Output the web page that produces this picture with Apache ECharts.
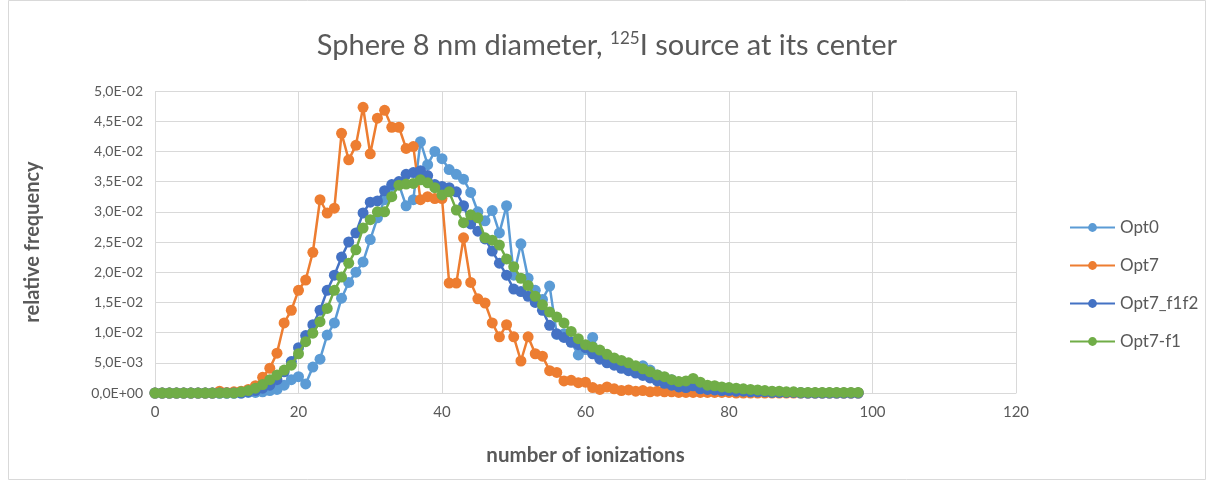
<!DOCTYPE html>
<html><head><meta charset="utf-8">
<script src="https://cdn.jsdelivr.net/npm/echarts@6/dist/echarts.min.js"></script>
<style>html,body{margin:0;padding:0;background:#fff}#c{width:1214px;height:488px}</style>
</head><body><div id="c"></div>
<script>
const ionizations = [0,1,2,3,4,5,6,7,8,9,10,11,12,13,14,15,16,17,18,19,20,21,22,23,24,25,26,27,28,29,30,31,32,33,34,35,36,37,38,39,40,41,42,43,44,45,46,47,48,49,50,51,52,53,54,55,56,57,58,59,60,61,62,63,64,65,66,67,68,69,70,71,72,73,74,75,76,77,78,79,80,81,82,83,84,85,86,87,88,89,90,91,92,93,94,95,96,97,98];
const opt0 = [0,0,0,0,0,0,0,0,0,0,0,0,0,0.0001,0.0001,0.0002,0.0004,0.0006,0.0013,0.0022,0.0027,0.0015,0.0043,0.0056,0.0096,0.0116,0.0157,0.0183,0.0200,0.0217,0.0254,0.0290,0.0320,0.0342,0.0345,0.0310,0.0320,0.0416,0.0378,0.0400,0.0388,0.0370,0.0362,0.0354,0.0332,0.0300,0.0285,0.0302,0.0265,0.0310,0.0195,0.0247,0.0190,0.0170,0.0155,0.0177,0.0097,0.0098,0.0085,0.0063,0.0072,0.0092,0.0065,0.0060,0.0052,0.0048,0.0042,0.0038,0.0045,0.0038,0.0030,0.0025,0.0022,0.0018,0.0016,0.0020,0.0012,0.0010,0.0008,0.0007,0.0006,0.0005,0.0004,0.0003,0.0003,0.0002,0.0002,0.0001,0.0001,0.0001,0.0001,0,0,0,0,0,0,0,0];
const opt7 = [0,0,0,0,0,0,0,0,0,0.0003,0.0001,0.0002,0.0003,0.0006,0.0012,0.0026,0.0041,0.0066,0.0116,0.0137,0.0170,0.0187,0.0233,0.0320,0.0298,0.0306,0.0430,0.0386,0.0410,0.0473,0.0396,0.0455,0.0468,0.0440,0.0440,0.0405,0.0408,0.0320,0.0325,0.0322,0.0322,0.0182,0.0182,0.0257,0.0183,0.0156,0.0149,0.0116,0.0093,0.0113,0.0093,0.0053,0.0093,0.0065,0.0061,0.0037,0.0034,0.0020,0.0021,0.0017,0.0018,0.0009,0.0006,0.0010,0.0007,0.0004,0.0005,0.0003,0.0004,0.0002,0.0003,0.0002,0.0002,0.0001,0.0001,0.0001,0.0001,0.0001,0.0001,0.0001,0.0001,0,0,0,0,0,0,0,0,0,0,0,0,0,0,0,0,0,0];
const opt7f1f2 = [0,0,0,0,0,0,0,0,0,0,0,0,0,0.0002,0.0004,0.0008,0.0013,0.0022,0.0035,0.0052,0.0075,0.0095,0.0113,0.0137,0.0170,0.0195,0.0225,0.0250,0.0265,0.0298,0.0316,0.0318,0.0335,0.0345,0.0350,0.0362,0.0365,0.0368,0.0360,0.0345,0.0342,0.0340,0.0333,0.0310,0.0280,0.0268,0.0255,0.0235,0.0215,0.0195,0.0172,0.0168,0.0160,0.0150,0.0137,0.0112,0.0098,0.0092,0.0084,0.0080,0.0075,0.0065,0.0056,0.0050,0.0046,0.0041,0.0037,0.0033,0.0029,0.0025,0.0020,0.0016,0.0013,0.0010,0.0009,0.0012,0.0007,0.0006,0.0005,0.0004,0.0004,0.0003,0.0003,0.0002,0.0002,0.0002,0.0001,0.0001,0.0001,0.0001,0,0,0,0,0,0,0,0,0];
const opt7f1 = [0,0,0,0,0,0,0,0,0,0,0,0,0.0002,0.0004,0.0008,0.0014,0.0022,0.0030,0.0038,0.0046,0.0065,0.0085,0.0099,0.0118,0.0140,0.0170,0.0192,0.0215,0.0237,0.0273,0.0287,0.0300,0.0300,0.0325,0.0344,0.0346,0.0347,0.0353,0.0348,0.0340,0.0328,0.0333,0.0303,0.0282,0.0295,0.0290,0.0257,0.0253,0.0245,0.0222,0.0209,0.0190,0.0178,0.0160,0.0146,0.0134,0.0126,0.0116,0.0102,0.0090,0.0080,0.0076,0.0071,0.0064,0.0058,0.0054,0.0050,0.0045,0.0040,0.0035,0.0030,0.0027,0.0022,0.0019,0.0020,0.0024,0.0018,0.0013,0.0012,0.0010,0.0009,0.0008,0.0007,0.0006,0.0005,0.0004,0.0003,0.0003,0.0002,0.0002,0.0001,0.0001,0.0001,0.0001,0.0001,0.0001,0.0001,0.0001,0.0001];
const seriesNames = ['Opt0','Opt7','Opt7_f1f2','Opt7-f1'];
const seriesColors = ['#5B9BD5','#ED7D31','#4472C4','#70AD47'];
const seriesValues = [opt0, opt7, opt7f1f2, opt7f1];
const xTicks = [0,20,40,60,80,100,120];

const FONT = 'Lato, "Open Sans", sans-serif';
const chart = echarts.init(document.getElementById('c'), null, {renderer:'canvas'});
function fmtY(v){
  if (Math.abs(v) < 1e-12) return '0,0E+00';
  let s = v.toExponential(1);
  let [m, e] = s.split('e');
  let sign = e[0] === '-' ? '-' : '+';
  let num = Math.abs(parseInt(e,10));
  return m.replace('.',',') + 'E' + sign + (num<10?'0':'') + num;
}
chart.setOption({
  animation:false,
  textStyle:{fontFamily:FONT},
  graphic:[{type:'rect', shape:{x:8.5,y:0.5,width:1197,height:479}, style:{fill:'none', stroke:'#d9d9d9', lineWidth:1}, silent:true}],
  title:{
    text:'Sphere 8 nm diameter, {sup|125}I source at its center',
    left:'center', top:25,
    textStyle:{fontFamily:FONT, fontSize:29, fontWeight:'normal', color:'#595959',
      rich:{sup:{fontFamily:FONT, fontSize:17, color:'#595959', verticalAlign:'top', padding:[0,0,14,0]}}}
  },
  legend:{
    orient:'vertical', left:1064, top:214, itemGap:21, itemWidth:45, itemHeight:11,
    textStyle:{fontFamily:FONT, fontSize:17, color:'#595959'},
    data:seriesNames
  },
  grid:{left:155, right:198, top:91, bottom:95, containLabel:false},
  xAxis:{
    type:'value', min:0, max:120, interval:20,
    axisLine:{show:true, lineStyle:{color:'#d9d9d9'}},
    axisTick:{show:false},
    axisLabel:{color:'#595959', fontSize:15, margin:12, fontFamily:FONT},
    splitLine:{show:true, lineStyle:{color:'#d9d9d9', width:1}},
    name:'number of ionizations', nameLocation:'middle', nameGap:52,
    nameTextStyle:{color:'#595959', fontSize:20.5, fontWeight:'bold', fontFamily:FONT}
  },
  yAxis:{
    type:'value', min:0, max:0.05, interval:0.005,
    axisLine:{show:false}, axisTick:{show:false},
    axisLabel:{color:'#595959', fontSize:14, margin:12, fontFamily:FONT, formatter:fmtY},
    splitLine:{show:true, lineStyle:{color:'#d9d9d9', width:1}},
    name:'relative frequency', nameLocation:'middle', nameGap:112, nameRotate:90,
    nameTextStyle:{color:'#595959', fontSize:20, fontWeight:'bold', fontFamily:FONT}
  },
  series: seriesNames.map((n,i)=>({
    name:n, type:'line', data: ionizations.map((x,k)=>[x, seriesValues[i][k]]),
    symbol:'circle', symbolSize:11, showSymbol:true,
    lineStyle:{color:seriesColors[i], width:2.5},
    itemStyle:{color:seriesColors[i]},
    z: 2+i
  }))
});
</script></body></html>
